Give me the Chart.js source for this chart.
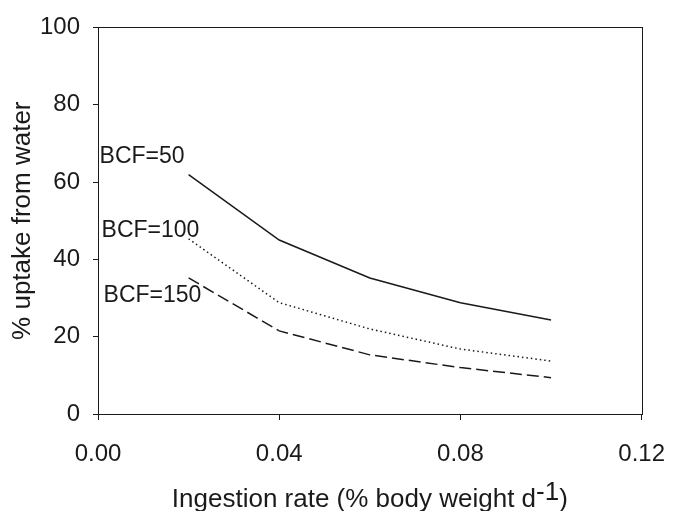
<!DOCTYPE html>
<html>
<head>
<meta charset="utf-8">
<script src="https://cdn.jsdelivr.net/npm/chart.js@4/dist/chart.umd.min.js"></script>
<style>
  html, body { margin: 0; padding: 0; background: #fff; }
  #wrap { width: 685px; height: 511px; }
</style>
</head>
<body>
<div id="wrap"><canvas id="uptake"></canvas></div>
<script>
// values
var ingestionRate = [0.02, 0.04, 0.06, 0.08, 0.10];
var bcf50 = [61.9, 45.0, 35.2, 28.8, 24.3];
var bcf100 = [45.3, 28.8, 22.0, 16.8, 13.7];
var bcf150 = [35.2, 21.5, 15.3, 12.0, 9.4];
var seriesNames = ['BCF=50', 'BCF=100', 'BCF=150'];
var xTicks = [0, 0.04, 0.08, 0.12];
var yTicks = [0, 20, 40, 60, 80, 100];
var xTitle = 'Ingestion rate (% body weight d';
var xTitleSup = '-1';
var yTitle = '% uptake from water';

var ink = '#1a1a1a';
var font = '"Liberation Sans", Arial, Helvetica, sans-serif';

function points(ys) {
    return ingestionRate.map(function(x, i) {
        return { x: x, y: ys[i] }
    })
}

// where each curve label sits, relative to the first point of its curve
var labelOffsets = [
    { dx: -89, dy: -18 },
    { dx: -87, dy: -8 },
    { dx: -85, dy: 18 }
];

var decorations = {
    id: 'decorations',
    afterDraw: function(chart) {
        var ctx = chart.ctx;
        var area = chart.chartArea;
        ctx.save();
        // frame
        ctx.strokeStyle = ink;
        ctx.lineWidth = 1;
        ctx.strokeRect(Math.round(area.left) + 0.5, Math.round(area.top) + 0.5,
            Math.round(area.right - area.left), Math.round(area.bottom - area.top));

        // curve labels
        ctx.fillStyle = ink;
        ctx.font = '23px ' + font;
        ctx.textBaseline = 'middle';
        ctx.textAlign = 'left';
        chart.data.datasets.forEach(function(ds, i) {
            var p = chart.getDatasetMeta(i).data[0];
            ctx.fillText(seriesNames[i], p.x + labelOffsets[i].dx, p.y + labelOffsets[i].dy);
        });

        // x title with superscript
        ctx.font = '26px ' + font;
        ctx.textBaseline = 'alphabetic';
        var w1 = ctx.measureText(xTitle).width;
        var w2 = ctx.measureText(xTitleSup).width;
        var w3 = ctx.measureText(')').width;
        var cx = (area.left + area.right) / 2;
        var x0 = cx - (w1 + w2 + w3) / 2;
        var base = 507;
        ctx.fillText(xTitle, x0, base);
        ctx.fillText(xTitleSup, x0 + w1, base - 7);
        ctx.fillText(')', x0 + w1 + w2, base);

        // y title
        ctx.translate(23, (area.top + area.bottom) / 2);
        ctx.rotate(-Math.PI / 2);
        ctx.textAlign = 'center';
        ctx.textBaseline = 'middle';
        ctx.fillText(yTitle, 0, 0);
        ctx.restore();
    }
};

var ctx = document.getElementById('uptake').getContext('2d');
new Chart(ctx, {
    type: 'scatter',
    data: {
        datasets: [{
            label: seriesNames[0],
            data: points(bcf50),
            showLine: true,
            borderColor: ink,
            borderWidth: 1.5
        }, {
            label: seriesNames[1],
            data: points(bcf100),
            showLine: true,
            borderColor: ink,
            borderWidth: 1.5,
            borderDash: [1.5, 3]
        }, {
            label: seriesNames[2],
            data: points(bcf150),
            showLine: true,
            borderColor: ink,
            borderWidth: 1.5,
            borderDash: [12, 5]
        }]
    },
    options: {
        responsive: true,
        maintainAspectRatio: false,
        animation: false,
        events: [],
        elements: {
            point: { radius: 0 },
            line: { tension: 0 }
        },
        layout: {
            padding: { top: 24, right: 28, left: 0, bottom: 0 }
        },
        plugins: {
            legend: { display: false },
            tooltip: { enabled: false }
        },
        scales: {
            x: {
                type: 'linear',
                min: 0,
                max: 0.12,
                afterBuildTicks: function(axis) {
                    axis.ticks = xTicks.map(function(v) { return { value: v } })
                },
                afterFit: function(axis) { axis.height = 97 },
                grid: { drawOnChartArea: false, drawTicks: true, tickLength: 6, tickColor: ink },
                border: { display: false },
                ticks: {
                    color: ink,
                    padding: 20,
                    maxRotation: 0,
                    font: { family: font, size: 24 },
                    callback: function(v) { return v.toFixed(2) }
                }
            },
            y: {
                min: 0,
                max: 100,
                afterBuildTicks: function(axis) {
                    axis.ticks = yTicks.map(function(v) { return { value: v } })
                },
                afterFit: function(axis) { axis.width = 98 },
                grid: { drawOnChartArea: false, drawTicks: true, tickLength: 5, tickColor: ink },
                border: { display: false },
                ticks: {
                    color: ink,
                    padding: 13,
                    font: { family: font, size: 24 }
                }
            }
        }
    },
    plugins: [decorations]
});
</script>
</body>
</html>
